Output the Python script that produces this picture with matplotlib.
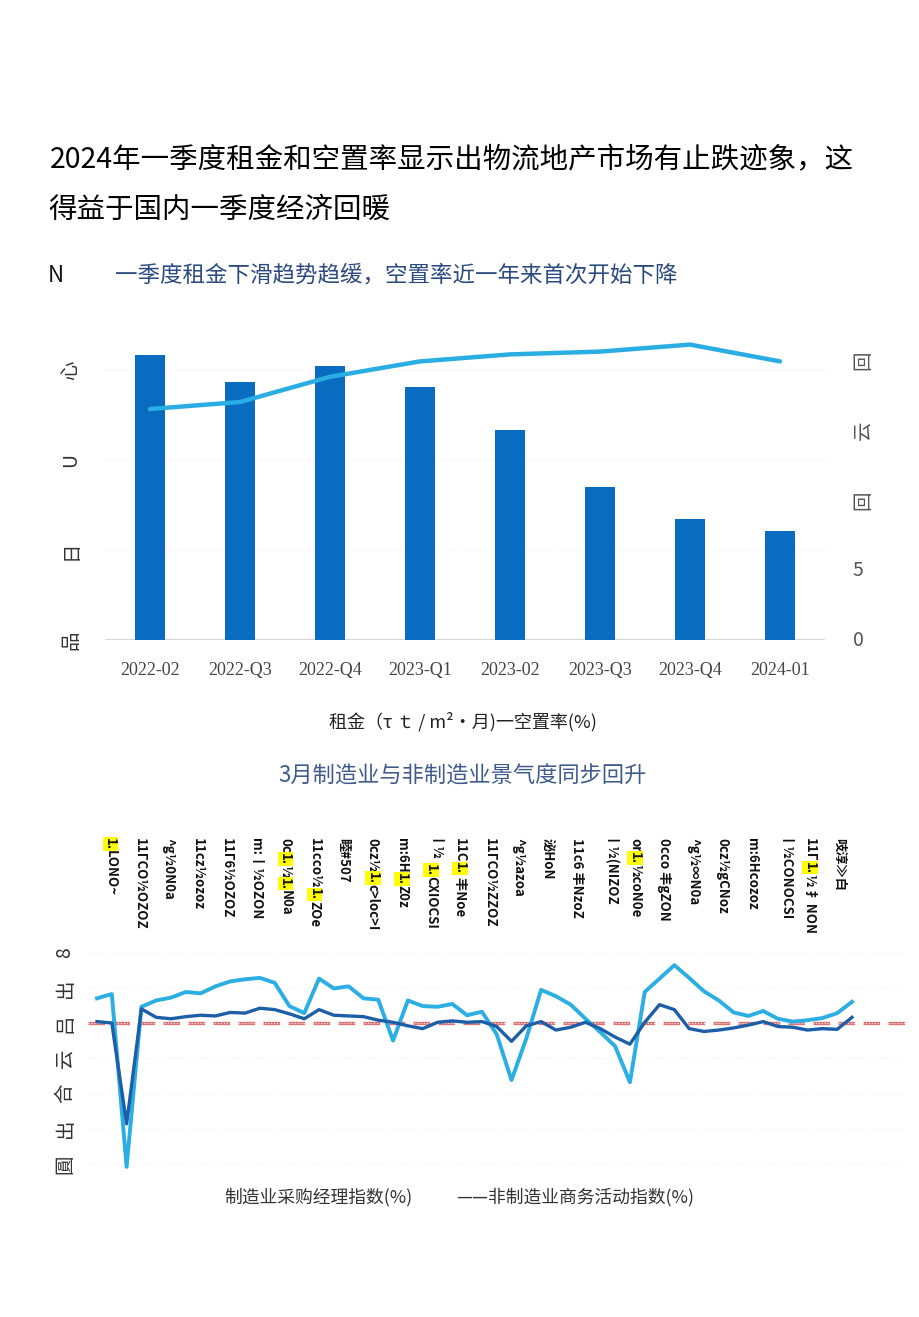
import re
import matplotlib
matplotlib.use('Agg')
import matplotlib.pyplot as plt
import pandas as pd
from matplotlib import transforms

plt.rcParams['font.family'] = ['Noto Sans CJK SC', 'DejaVu Sans']

# chart 1: rent (bars, left) and vacancy rate (line, right)
quarters = ['2022-02', '2022-Q3', '2022-Q4', '2023-Q1', '2023-02', '2023-Q3', '2023-Q4', '2024-01']
rent = [31.7, 28.7, 30.4, 28.1, 23.3, 17.0, 13.4, 12.1]
vacancy = [16.5, 17.0, 18.8, 19.9, 20.4, 20.6, 21.1, 19.9]
rent_ticks = [0, 10, 20, 30]
rent_ticklabels = ['品', '日', 'U', '心']
vac_ticks = [0, 5, 10, 15, 20]
vac_ticklabels = ['0', '5', '回', '云', '回']

# chart 2: PMI, Dec 2019 .. Mar 2024
months = pd.period_range('2019-12', '2024-03', freq='M')
pmi_mfg = [50.2,
           50.0, 35.7, 52.0, 50.8, 50.6, 50.9, 51.1, 51.0, 51.5, 51.4, 52.1, 51.9,
           51.3, 50.6, 51.9, 51.1, 51.0, 50.9, 50.4, 50.1, 49.6, 49.2, 50.1, 50.3,
           50.1, 50.2, 49.5, 47.4, 49.6, 50.2, 49.0, 49.4, 50.1, 49.2, 48.0, 47.0,
           50.1, 52.6, 51.9, 49.2, 48.8, 49.0, 49.3, 49.7, 50.2, 49.5, 49.4, 49.0,
           49.2, 49.1, 50.8]
pmi_non = [53.5,
           54.1, 29.6, 52.3, 53.2, 53.6, 54.4, 54.2, 55.2, 55.9, 56.2, 56.4, 55.7,
           52.4, 51.4, 56.3, 54.9, 55.2, 53.5, 53.3, 47.5, 53.2, 52.4, 52.3, 52.7,
           51.1, 51.6, 48.4, 41.9, 47.8, 54.7, 53.8, 52.6, 50.6, 48.7, 46.7, 41.6,
           54.4, 56.3, 58.2, 56.4, 54.5, 53.2, 51.5, 51.0, 51.7, 50.6, 50.2, 50.4,
           50.7, 51.4, 53.0]
pmi_ticks = [30, 35, 40, 45, 50, 55, 60]
pmi_ticklabels = ['圓', '出', '合', '云', '吕', '出', '8']
# garbled month labels along the top, [..] marks highlighted bits
top_labels = ['[1.]LONO~', '11ГCO½OZOZ', '^g½0N0a', '11cz½ozoz', '11Г6½OZOZ',
              'm:丨½OZON', '0c[1.]½[1.]N0a', '11cco½[1.]ZOe', '睦#507',
              '0cz½[1.]c>loc>I', 'm:6H[1.]Z0z', '丨½[1.]CXIOCSI', '11C[1.] 丰Noe',
              '11ГCO½ZZOZ', '^g½azoa', '泌HoN', '11c6 丰NzoZ', '丨½(NIZOZ',
              'or[1.]½coN0e', '0cco 丰gZON', '^g½∞N0a', '0cz½gCNoz', 'm:6Hcozoz',
              '丨½CONOCSI', '11Г[1.]½ 扌NON', '吱淳≫白']

W, H = 920, 1317
fig = plt.figure(figsize=(W / 100, H / 100), dpi=100)


def box(l, t, r, b):
    return [l / W, 1 - b / H, (r - l) / W, (b - t) / H]


# ---- chart 1
ax1 = fig.add_axes(box(105, 330, 825, 640))
x = range(len(quarters))
ax1.bar(x, rent, width=0.33, color='#0a6cc0', zorder=3)
ax1.set_xlim(-0.5, 7.5)
ax1.set_ylim(0, 310 / 9)
ax1.set_xticks(list(x))
ax1.set_xticklabels(quarters, family='Liberation Serif', fontsize=13, color='#444444')
ax1.set_yticks(rent_ticks)
ax1.set_yticklabels(rent_ticklabels, rotation=90, fontsize=14, color='#333333', va='center')
ax1.tick_params(axis='x', length=0, pad=16)
ax1.tick_params(axis='y', length=0, pad=17)
ax1.grid(axis='y', color='#efefef', linestyle=':', linewidth=0.8, zorder=0)
for s in ax1.spines.values():
    s.set_visible(False)
ax1.axhline(0, color='#cfcfcf', linewidth=1.2, zorder=2)

ax1b = ax1.twinx()
ax1b.plot(list(x), vacancy, color='#2aade2', linewidth=3.2, solid_capstyle='round', zorder=4)
ax1b.set_ylim(0, 310 / 14)
ax1b.set_yticks(vac_ticks)
ax1b.set_yticklabels(vac_ticklabels, fontsize=14, color='#555555', va='center')
for lab in ax1b.get_yticklabels()[2:]:
    lab.set_rotation(90)
ax1b.tick_params(axis='y', length=0, pad=20)
for s in ax1b.spines.values():
    s.set_visible(False)

# ---- chart 2
ax2 = fig.add_axes(box(88, 945, 905, 1175))
xm = list(range(len(months)))
ax2.axhline(50, color='#e07272', linestyle=(0, (5, 2.5)), linewidth=2.4, zorder=1)
ax2.plot(xm, pmi_non, color='#2aaee3', linewidth=2.8, zorder=3)
ax2.plot(xm, pmi_mfg, color='#1d5ea8', linewidth=2.4, zorder=4)
ax2.set_xlim(-9 / 14.8, 51 + 53 / 14.8)
ax2.set_ylim(50 - 152 / 7.05, 50 + 78 / 7.05)
ax2.set_xticks([])
ax2.set_yticks(pmi_ticks)
ax2.set_yticklabels(pmi_ticklabels, rotation=90, fontsize=14, color='#333333', va='center')
ax2.tick_params(axis='y', length=0, pad=9)
ax2.grid(axis='y', color='#f4f4f4', linestyle=':', linewidth=0.8, zorder=0)
for s in ax2.spines.values():
    s.set_visible(False)

# ---- overlay for texts, pixel coordinates
ov = fig.add_axes([0, 0, 1, 1])
ov.set_xlim(0, W)
ov.set_ylim(H, 0)
ov.axis('off')

ov.text(50, 160, '2024年一季度租金和空置率显示出物流地产市场有止跌迹象，这',
        fontsize=20.5, va='center', ha='left', color='#000000', fontweight='medium')
ov.text(48, 210, '得益于国内一季度经济回暖', fontsize=20.5, va='center', ha='left',
        color='#000000', fontweight='medium')
ov.text(48, 275, 'N', fontsize=16, va='center', ha='left', color='#111111')
ov.text(115, 275, '一季度租金下滑趋势趋缓，空置率近一年来首次开始下降',
        fontsize=16.2, va='center', ha='left', color='#2b4a80')
ov.text(463, 722, '租金（τ ｔ / m²•月)一空置率(%)', fontsize=13, va='center', ha='center',
        color='#222222')
ov.text(463, 776, '3月制造业与非制造业景气度同步回升', fontsize=16, va='center', ha='center',
        color='#3e5b8c')
ov.text(224, 1197, '制造业采购经理指数(%)', fontsize=12.8, va='center', ha='left', color='#333333')
ov.text(456, 1197, '——非制造业商务活动指数(%)', fontsize=12.8, va='center', ha='left',
        color='#333333')

tr = transforms.blended_transform_factory(ax2.transData, ov.transData)
for k, lab in enumerate(top_labels):
    parts = [p for p in re.split(r'(\[[^\]]*\])', lab) if p]
    prev = None
    for p in parts:
        hl = p.startswith('[')
        seg = p.strip('[]')
        kw = dict(rotation=-90, ha='center', va='top', fontsize=9.5,
                  fontweight='bold', color='#111111')
        if hl:
            kw['bbox'] = dict(facecolor='#ffff00', edgecolor='none', pad=0.6)
        if prev is None:
            prev = ov.annotate(seg, xy=(0.9 + 1.97 * k, 838), xycoords=tr, **kw)
        else:
            prev = ov.annotate(seg, xy=(0.5, 0), xycoords=prev, **kw)

fig.savefig('out.png', dpi=100)
